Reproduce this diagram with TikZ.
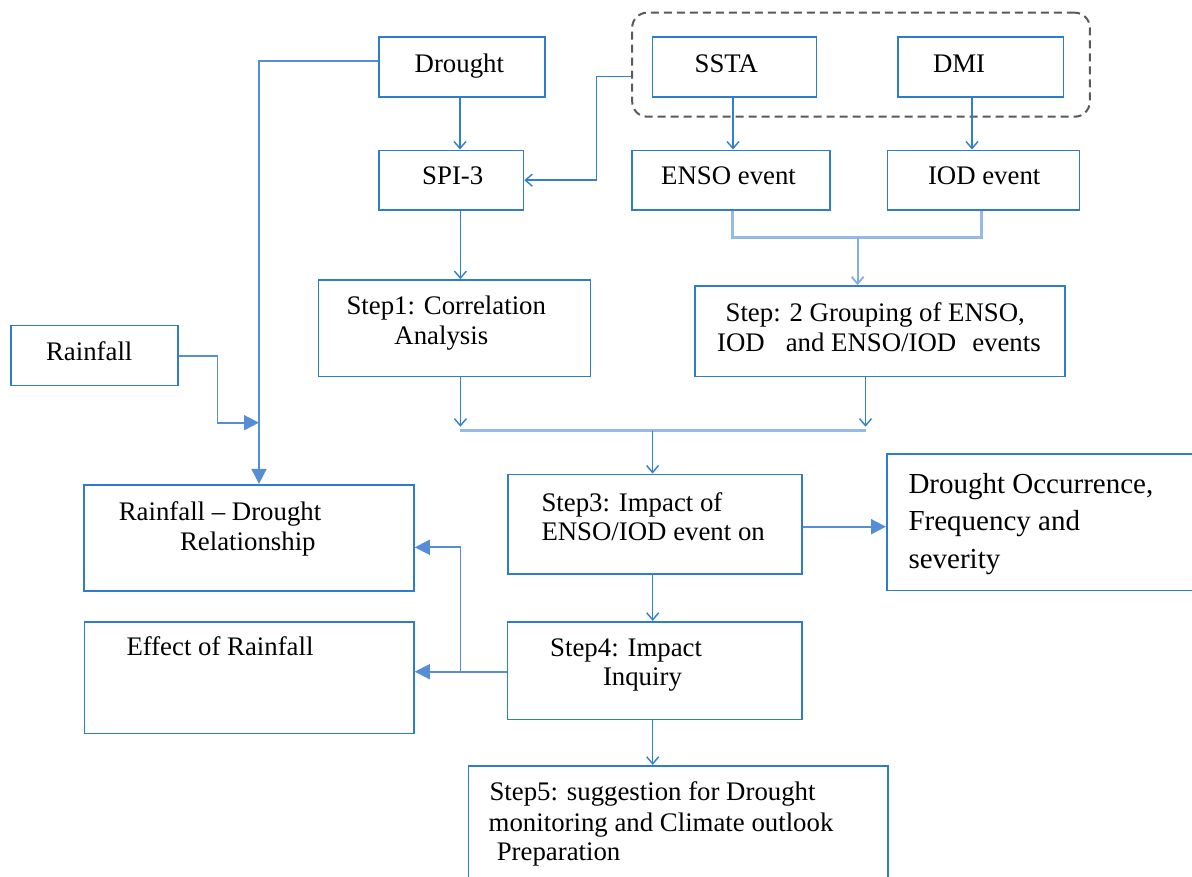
\documentclass[tikz,border=0pt]{standalone}
\usepackage{fontspec}
\setmainfont{Liberation Serif}
\usetikzlibrary{arrows.meta}
\definecolor{boxblue}{RGB}{46,125,205}
\definecolor{lineblue}{RGB}{48,128,205}
\definecolor{lightblue}{RGB}{150,185,232}
\definecolor{arrowblue}{RGB}{85,142,214}
\definecolor{dashgray}{RGB}{90,90,90}
\begin{document}
\begin{tikzpicture}[x=1pt,y=-1pt,
  box/.style={draw=boxblue, line width=1.6pt, rectangle, inner sep=0pt, fill=white},
  txt/.style={inner sep=0pt, anchor=base west, font=\fontsize{26.8}{32}\selectfont},
  bigtxt/.style={inner sep=0pt, anchor=base west, font=\fontsize{29}{36}\selectfont},
  openarr/.style={draw=lineblue, line width=1.4pt, -{Straight Barb[length=7pt,width=12pt]}},
  mergeline/.style={draw=lightblue, line width=3pt},
  lightarr/.style={draw=lightblue!80!lineblue, line width=1.8pt, -{Straight Barb[length=7pt,width=12pt]}},
  fillarr/.style={draw=arrowblue, line width=1.8pt, -{Triangle[length=15pt,width=15pt]}},
  plainline/.style={draw=arrowblue, line width=1.8pt},
  grp/.style={draw=dashgray, line width=2pt, dash pattern=on 8pt off 5pt, rounded corners=15pt, inner sep=0pt, rectangle}
]
\clip (0,0) rectangle (1192,877);
\fill[white] (0,0) rectangle (1192,877);

% group
\node[grp, minimum width=457.6, minimum height=104] (grp) at (861,64.7) {};

% boxes
\node[box, minimum width=166, minimum height=60] (drought) at (462,67.3) {};
\node[box, minimum width=144.5, minimum height=59.7] (spi) at (451.2,180.2) {};
\node[box, minimum width=164, minimum height=60] (ssta) at (734.5,67.3) {};
\node[box, minimum width=165.4, minimum height=60] (dmi) at (980.6,67.3) {};
\node[box, minimum width=198.2, minimum height=59.7] (enso) at (730.9,180.2) {};
\node[box, minimum width=192, minimum height=59.7] (iod) at (983.5,180.2) {};
\node[box, minimum width=272, minimum height=96.7] (step1) at (454.5,328.3) {};
\node[box, minimum width=370, minimum height=90.7] (step2) at (880,331.3) {};
\node[box, minimum width=167.3, minimum height=60] (rain) at (94.4,355.7) {};
\node[box, minimum width=330, minimum height=106] (rdr) at (249,537.7) {};
\node[box, minimum width=294, minimum height=99.7] (step3) at (654.7,524.2) {};
\node[box, minimum width=360, minimum height=136.8] (docc) at (1066.8,522.1) {};
\node[box, minimum width=329.6, minimum height=111.6] (effect) at (249.2,677.5) {};
\node[box, minimum width=294.5, minimum height=97.6] (step4) at (654.7,670.5) {};
\node[box, minimum width=419.5, minimum height=140] (step5) at (678.2,835.7) {};

% texts
\node[txt] (tdrought) at (414.5,72.5) {Drought};
\node[txt] (tspi) at (422,185) {SPI-3};
\node[txt] (tssta) at (694.4,72.3) {SSTA};
\node[txt] (tdmi) at (932.8,72.3) {DMI};
\node[txt] (tenso) at (661,185) {ENSO event};
\node[txt] (tiod) at (927.8,185) {IOD event};
\node[txt] (ts1a) at (346.3,315) {Step1: Correlation};
\node[txt] (ts1b) at (394.2,345) {Analysis};
\node[txt] (ts2a) at (725.4,321.7) {Step: 2 Grouping of ENSO,};
\node[txt] (ts2b) at (717,351.7) {IOD\hspace{21pt}and ENSO/IOD\hspace{16pt}events};
\node[txt] (train) at (45.9,360.7) {Rainfall};
\node[txt] (trdra) at (118.6,520) {Rainfall – Drought};
\node[txt] (trdrb) at (179.9,550) {Relationship};
\node[txt] (ts3a) at (541.3,511) {Step3: Impact of};
\node[txt] (ts3b) at (541.3,540) {ENSO/IOD event on};
\node[bigtxt] (tdocca) at (908.3,493.3) {Drought Occurrence,};
\node[bigtxt] (tdoccb) at (908.3,530.7) {Frequency and};
\node[bigtxt] (tdoccc) at (908.3,568.3) {severity};
\node[txt] (teff) at (126.3,655) {Effect of Rainfall};
\node[txt] (ts4a) at (550,656.7) {Step4: Impact};
\node[txt] (ts4b) at (602.8,685) {Inquiry};
\node[txt] (ts5a) at (489.3,800) {Step5: suggestion for Drought};
\node[txt] (ts5b) at (488.5,831.7) {monitoring and Climate outlook};
\node[txt] (ts5c) at (496.6,860) {Preparation};

% coordinates
\coordinate (jL) at (259,422.7);
\coordinate (rbend) at (217.4,422.7);
\coordinate (bendS) at (596.5,76.3);
\coordinate (m2) at (857.6,237.3);
\coordinate (a1) at (460.4,430.7);
\coordinate (a2) at (865.5,430.7);
\coordinate (m3) at (652.6,430.7);

% connectors
\draw[openarr] ([xshift=-2]drought.south) -- ([xshift=-2]drought.south |- spi.north);
\draw[openarr] (a1 |- spi.south) -- (a1 |- step1.north);
\draw[fillarr] ([yshift=6]drought.west) -| (jL |- rdr.north);
\draw[fillarr] (rain.east) -| (rbend) -- (jL);
\draw[openarr] (grp.west |- bendS) -- (bendS) |- (spi.east);
\draw[openarr] ([xshift=-1.5]ssta.south) -- ([xshift=-1.5]ssta.south |- enso.north);
\draw[openarr] ([xshift=-8.6]dmi.south) -- ([xshift=-8.6]dmi.south |- iod.north);
\draw[mergeline] ([xshift=2]enso.south) |- ([xshift=-2]iod.south |- m2) -- ([xshift=-2]iod.south);
\draw[lightarr] (m2) -- (m2 |- step2.north);
\draw[openarr] (a1 |- step1.south) -- ([yshift=4]a1);
\draw[openarr] (a2 |- step2.south) -- ([yshift=4]a2);
\draw[mergeline] (a1) -- (a2);
\draw[openarr] (m3) -- (m3 |- step3.north);
\draw[fillarr] ([yshift=-2.5]step3.east) -- ([yshift=-2.5]step3.east -| docc.west);
\draw[openarr] ([xshift=-2]step3.south) -- ([xshift=-2]step3.south |- step4.north);
\draw[fillarr] ([yshift=-1.2]step4.west) -- ([yshift=-1.2]step4.west -| effect.east);
\draw[fillarr] ([yshift=-1.2]step4.west -| a1) |- ([yshift=-9.6]rdr.east);
\draw[openarr] ([xshift=-2]step4.south) -- ([xshift=-2]step4.south |- step5.north);
\end{tikzpicture}
\end{document}
